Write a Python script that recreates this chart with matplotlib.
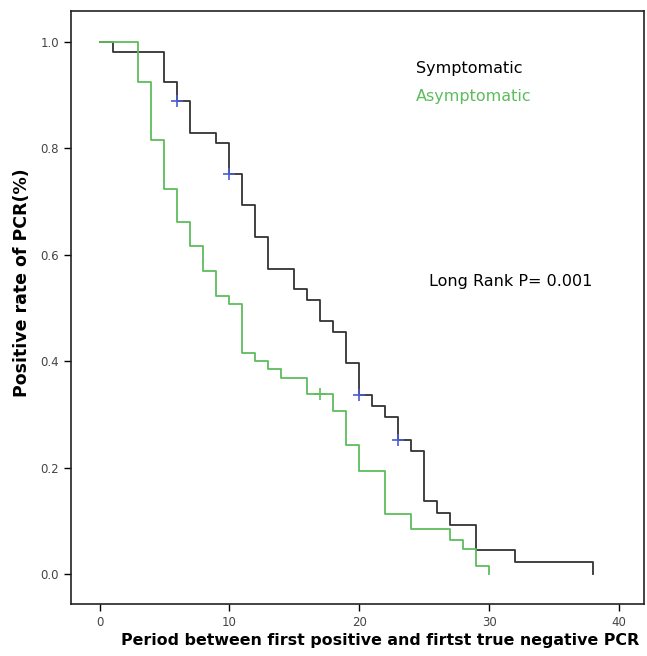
import matplotlib
matplotlib.use('Agg')
import matplotlib.pyplot as plt
from matplotlib.ticker import FormatStrFormatter

# Kaplan-Meier style steps
sym_t = [0, 1, 5, 6, 7, 9, 10, 11, 12, 13, 15, 16, 17, 18, 19, 20, 21, 22, 23, 24, 25, 26, 27, 29, 32, 38]
sym_s = [1.0, 0.981, 0.924, 0.888, 0.829, 0.810, 0.752, 0.694, 0.634, 0.574, 0.535, 0.515, 0.476, 0.455,
         0.397, 0.336, 0.316, 0.295, 0.252, 0.231, 0.138, 0.115, 0.092, 0.046, 0.023, 0.0]
sym_cens_t = [6, 10, 20, 23]
sym_cens_s = [0.888, 0.752, 0.336, 0.252]

asym_t = [0, 3, 4, 5, 6, 7, 8, 9, 10, 11, 12, 13, 14, 16, 18, 19, 20, 22, 24, 27, 28, 29, 30]
asym_s = [1.0, 0.924, 0.816, 0.724, 0.662, 0.616, 0.570, 0.523, 0.508, 0.416, 0.400, 0.385, 0.369,
          0.338, 0.307, 0.242, 0.194, 0.113, 0.084, 0.065, 0.048, 0.016, 0.0]
asym_cens_t = [17]
asym_cens_s = [0.338]

x_ticks = [0, 10, 20, 30, 40]
y_ticks = [0.0, 0.2, 0.4, 0.6, 0.8, 1.0]

black = '#333333'
green = '#5dbd5d'
blue = '#4a5cd0'

fig = plt.figure(figsize=(6.47, 6.56), dpi=100)
ax = fig.add_axes([0.1097, 0.0793, 0.885, 0.904])

ax.step(sym_t, sym_s, where='post', color=black, lw=1.3)
ax.step(asym_t, asym_s, where='post', color=green, lw=1.3)
ax.plot(sym_cens_t, sym_cens_s, ls='none', marker='+', ms=8, mew=1.2, color=blue)
ax.plot(asym_cens_t, asym_cens_s, ls='none', marker='+', ms=8, mew=1.2, color=green)

ax.set_xlim(-2.2, 41.9)
ax.set_ylim(-0.056, 1.058)
ax.set_xticks(x_ticks)
ax.set_yticks(y_ticks)
ax.yaxis.set_major_formatter(FormatStrFormatter('%.1f'))
ax.tick_params(direction='out', length=5, width=1, labelsize=8.5, labelcolor='#444444')
for sp in ax.spines.values():
    sp.set_linewidth(1.2)
    sp.set_color('#222222')

fig.text(380 / 647, 1 - 641 / 656, 'Period between first positive and firtst true negative PCR',
         fontsize=11.4, fontweight='bold', ha='center', va='center')
fig.text(22 / 647, 1 - 283 / 656, 'Positive rate of PCR(%)', fontsize=12.5, fontweight='bold',
         rotation=90, ha='center', va='center')

ax.text(24.4, 0.949, 'Symptomatic', fontsize=11.5, color='black', va='center')
ax.text(24.4, 0.897, 'Asymptomatic', fontsize=11.5, color=green, va='center')
ax.text(25.4, 0.549, 'Long Rank P= 0.001', fontsize=11.5, color='black', va='center')

fig.savefig('out.png', dpi=100)
